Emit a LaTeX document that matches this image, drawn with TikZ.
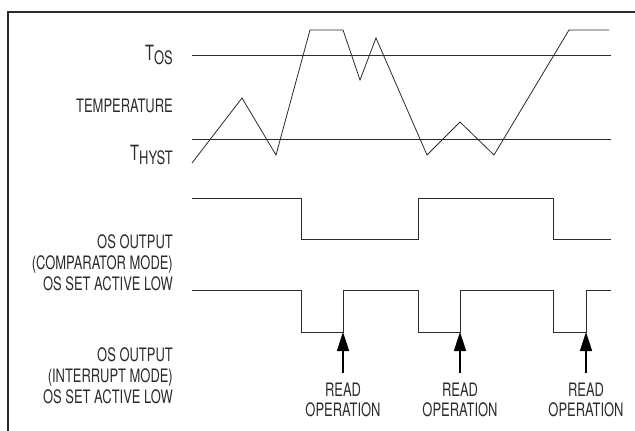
\documentclass[tikz,border=0pt]{standalone}
\usepackage{fontspec}
\setmainfont{TeX Gyre Heros}[FakeStretch=0.70]
\usetikzlibrary{arrows.meta,positioning}
\definecolor{ink}{HTML}{2B2B2B}
\tikzset{
    sigline/.style={
            line width=0.8pt,
            draw=ink,
        }
}
\tikzset{
    labelnode/.style={
            anchor=east,
            align=right,
            inner sep=0pt,
            text=ink,
            font=\fontsize{18.5}{21}\selectfont,
        }
}
\tikzset{
    readnode/.style={
            anchor=north,
            align=center,
            inner sep=0pt,
            text=ink,
            font=\fontsize{18.5}{20}\selectfont,
        }
}
\newcommand{\tsub}[1]{{\fontsize{21}{21}\selectfont T}\raisebox{-4pt}{#1}}

\begin{document}
\begin{tikzpicture}[x=1pt,y=-1pt]
    \useasboundingbox (0,0) rectangle (635,431);

    % frame
    \draw[line width=2pt, draw=ink] (8,431) -- (8,12) -- (635,12);

    % labels
    \node[labelnode] (Tos) at (173,55) {\tsub{OS}};
    \node[labelnode] (temp) at (173,106) {TEMPERATURE};
    \node[labelnode] (Thyst) at (173,155) {\tsub{HYST}};
    \node[labelnode] (comp) at (173,263) {OS OUTPUT\\(COMPARATOR MODE)\\OS SET ACTIVE LOW};
    \node[labelnode] (intr) at (173,376) {OS OUTPUT\\(INTERRUPT MODE)\\OS SET ACTIVE LOW};

    % thresholds
    \draw[sigline] (192,55) -- (611,55);
    \draw[sigline] (192,139) -- (611,139);

    % temperature
    \draw[sigline] (192,163) -- (242,98) -- (276,155) -- (310,30) -- (343,30)
        -- (360,80) -- (376,38) -- (427,155) -- (460,122) -- (494,155)
        -- (569,30) -- (609,30);

    % comparator mode
    \draw[sigline] (192,198) -- (301,198) -- (301,239) -- (418,239)
        -- (418,198) -- (553,198) -- (553,239) -- (611,239);

    % interrupt mode
    \draw[sigline] (192,290) -- (301,290) -- (301,332) -- (343,332)
        -- (343,290) -- (418,290) -- (418,332) -- (460,332) -- (460,290)
        -- (553,290) -- (553,332) -- (586,332) -- (586,290) -- (611,290);

    % read operations
    \foreach \x/\n in {343/1,460/2,586/3}
        {
            \coordinate (P-\n) at (\x,332);
            \node[readnode] (R-\n) at (\x,383) {READ\\OPERATION};
            \draw[
                -{Triangle[width=12pt,length=19pt]},
                line width=1.6pt,
                draw=black,
                fill=black,
                shorten <= 10pt,
            ] (R-\n.north) -- (P-\n);
        }
\end{tikzpicture}
\end{document}
